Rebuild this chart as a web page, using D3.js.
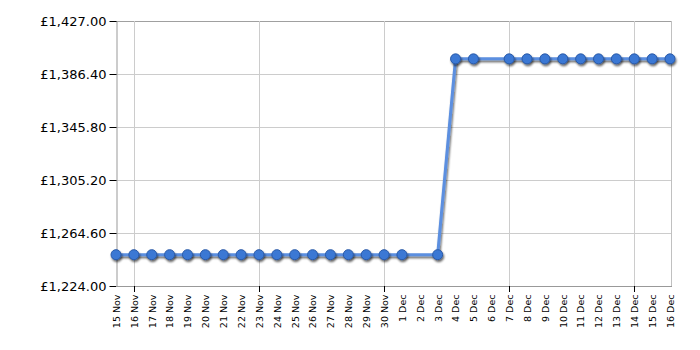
<!DOCTYPE html>
<html><head><meta charset="utf-8">
<script src="https://cdn.jsdelivr.net/npm/d3@7"></script>
<style>body{margin:0;background:#fff}svg{display:block}</style>
</head><body>
<svg id="c" width="700" height="350"></svg>
<script>
const dates = ["15 Nov","16 Nov","17 Nov","18 Nov","19 Nov","20 Nov","21 Nov","22 Nov","23 Nov","24 Nov","25 Nov","26 Nov","27 Nov","28 Nov","29 Nov","30 Nov","1 Dec","2 Dec","3 Dec","4 Dec","5 Dec","6 Dec","7 Dec","8 Dec","9 Dec","10 Dec","11 Dec","12 Dec","13 Dec","14 Dec","15 Dec","16 Dec"];
const prices = [1248,1248,1248,1248,1248,1248,1248,1248,1248,1248,1248,1248,1248,1248,1248,1248,1248,null,1248,1398,1398,null,1398,1398,1398,1398,1398,1398,1398,1398,1398,1398];
const yTicks = [1224.00,1264.60,1305.20,1345.80,1386.40,1427.00];
const gridDates = ["16 Nov","23 Nov","30 Nov","7 Dec","14 Dec"];

const svg = d3.select("#c");
const L=116, R=671, T=21, B=286;
const x = d3.scalePoint().domain(dates).range([L, R-1]);
const y = d3.scaleLinear().domain([1224,1427]).range([B, T]);
const fmt = v => "£" + d3.format(",.2f")(v);

const defs = svg.append("defs");
const f = defs.append("filter").attr("id","sh").attr("x","-50%").attr("y","-50%").attr("width","200%").attr("height","200%");
f.append("feGaussianBlur").attr("in","SourceAlpha").attr("stdDeviation",1);
f.append("feOffset").attr("dx",1).attr("dy",2).attr("result","o");
f.append("feComponentTransfer").append("feFuncA").attr("type","linear").attr("slope",0.6);
const m = f.append("feMerge"); m.append("feMergeNode"); m.append("feMergeNode").attr("in","SourceGraphic");

// horizontal grid
svg.append("g").selectAll("line").data(yTicks).join("line")
  .attr("x1",L).attr("x2",R).attr("y1",d=>Math.round(y(d))+0.5).attr("y2",d=>Math.round(y(d))+0.5)
  .attr("stroke",(d,i)=>i===yTicks.length-1?"#a0a0a0":"#cccccc").attr("stroke-width",1);
// vertical grid
svg.append("g").selectAll("line").data(gridDates).join("line")
  .attr("x1",d=>Math.round(x(d))+0.5).attr("x2",d=>Math.round(x(d))+0.5).attr("y1",T).attr("y2",B)
  .attr("stroke","#cccccc");
// right border
svg.append("line").attr("x1",R+0.5).attr("x2",R+0.5).attr("y1",T).attr("y2",B).attr("stroke","#c0c0c0");

// y axis
const ya = svg.append("g").attr("transform",`translate(${L+0.5},0)`)
  .call(d3.axisLeft(y).tickValues(yTicks).tickFormat(fmt).tickSize(7).tickSizeOuter(0));
ya.select(".domain").attr("stroke","#999");
ya.selectAll(".tick line").attr("stroke","#000");
ya.selectAll("text").attr("font-family","'DejaVu Sans', Verdana, sans-serif").attr("font-size","13px").attr("fill","#000").attr("x",-10);

// x axis
const xa = svg.append("g").attr("transform",`translate(0,${B+0.5})`)
  .call(d3.axisBottom(x).tickSize(0).tickSizeOuter(0));
xa.select(".domain").attr("stroke","#999").attr("d",`M${L},0H${R+1}`);
xa.selectAll(".tick text").attr("font-family","'DejaVu Sans', Verdana, sans-serif").attr("font-size","9.5px").attr("fill","#000")
  .attr("transform","rotate(-90)").attr("text-anchor","end").attr("x",-8).attr("y",0).attr("dy","0.35em");
svg.append("g").selectAll("line").data(gridDates).join("line")
  .attr("x1",d=>Math.round(x(d))+0.5).attr("x2",d=>Math.round(x(d))+0.5).attr("y1",B).attr("y2",B+6).attr("stroke","#000");

// line
const pts = dates.map((d,i)=>({d, v:prices[i]})).filter(p=>p.v!==null);
const line = d3.line().x(p=>x(p.d)).y(p=>y(p.v));
svg.append("path").datum(pts).attr("d",line).attr("fill","none")
  .attr("stroke","#5b8fe0").attr("stroke-width",3).attr("filter","url(#sh)");
svg.append("g").attr("filter","url(#sh)").selectAll("circle").data(pts).join("circle")
  .attr("cx",p=>x(p.d)).attr("cy",p=>y(p.v)).attr("r",5)
  .attr("fill","#3b78d4").attr("stroke","#2a5aa8").attr("stroke-width",1);
</script>
</body></html>
